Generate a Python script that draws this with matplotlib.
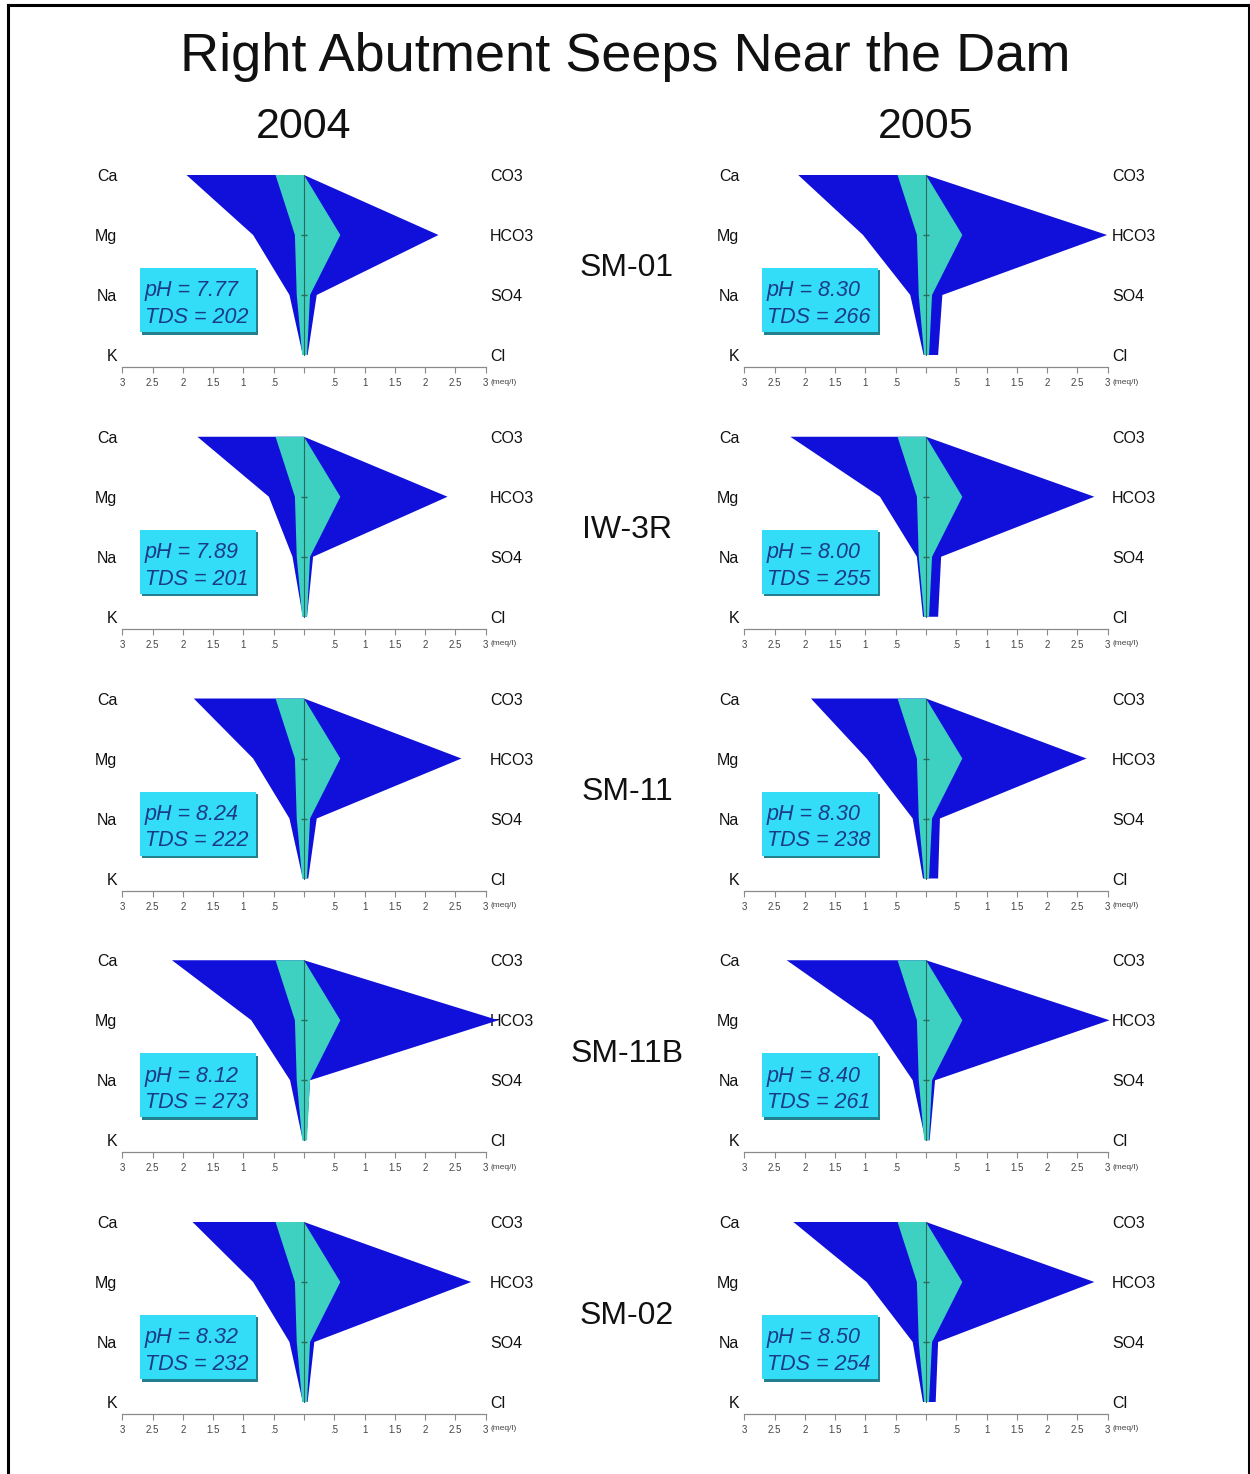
import matplotlib
matplotlib.use("Agg")
import matplotlib.pyplot as plt
from matplotlib.patches import Polygon, Rectangle
from matplotlib.lines import Line2D

plt.rcParams['font.family'] = ['Liberation Sans', 'DejaVu Sans']

# ---------------- data ----------------
title = "Right Abutment Seeps Near the Dam"
years = ["2004", "2005"]
stations = ["SM-01", "IW-3R", "SM-11", "SM-11B", "SM-02"]
cations = ["Ca", "Mg", "Na", "K"]
anions = ["CO3", "HCO3", "SO4", "Cl"]

# meq/l values (cations plotted to the left, anions to the right)
cation_2004 = [[1.94, 0.84, 0.24, 0.02],
               [1.76, 0.58, 0.19, 0.02],
               [1.82, 0.84, 0.24, 0.02],
               [2.18, 0.87, 0.23, 0.02],
               [1.84, 0.84, 0.24, 0.02]]
anion_2004 = [[0.00, 2.22, 0.21, 0.06],
              [0.00, 2.37, 0.15, 0.05],
              [0.00, 2.60, 0.21, 0.07],
              [0.00, 3.21, 0.10, 0.04],
              [0.00, 2.76, 0.17, 0.06]]
cation_2005 = [[2.11, 1.04, 0.26, 0.04],
               [2.24, 0.76, 0.15, 0.05],
               [1.90, 0.98, 0.22, 0.05],
               [2.30, 0.89, 0.22, 0.01],
               [2.19, 0.98, 0.22, 0.05]]
anion_2005 = [[0.00, 2.99, 0.27, 0.20],
              [0.00, 2.78, 0.25, 0.20],
              [0.00, 2.65, 0.23, 0.20],
              [0.00, 3.03, 0.15, 0.06],
              [0.00, 2.78, 0.20, 0.16]]

# reference water (inner turquoise shape, same on every diagram)
ref_cation = [0.47, 0.15, 0.12, 0.03]
ref_anion = [0.00, 0.60, 0.10, 0.05]

ph_2004 = [7.77, 7.89, 8.24, 8.12, 8.32]
tds_2004 = [202, 201, 222, 273, 232]
ph_2005 = [8.30, 8.00, 8.30, 8.40, 8.50]
tds_2005 = [266, 255, 238, 261, 254]

tick_values = [-3, -2.5, -2, -1.5, -1, -0.5, 0, 0.5, 1, 1.5, 2, 2.5, 3]
tick_labels = ["3", "2.5", "2", "1.5", "1", ".5", "", ".5", "1", "1.5", "2", "2.5", "3"]
unit_label = "(meq/l)"

cations_by_year = [cation_2004, cation_2005]
anions_by_year = [anion_2004, anion_2005]
ph_by_year = [ph_2004, ph_2005]
tds_by_year = [tds_2004, tds_2005]

# ---------------- style / layout ----------------
W, H = 1250, 1474
BLUE = "#1010DA"
TURQ = "#3ED0C0"
BOX = "#33DDF7"
BOX_SHADOW = "#23808F"
BOX_TEXT = "#1B3A8A"
AXIS_GRAY = "#8a8a8a"

fig = plt.figure(figsize=(W / 100, H / 100), dpi=100)
fig.patch.set_facecolor("white")

col_x0 = [122.3, 744.3]
col_w = 363.4
row_ca_y = [175 + 261.75 * r for r in range(len(stations))]
row_px = 60.0


def stiff_xy(cat, an):
    left = [(-v, i) for i, v in enumerate(cat)]
    right = [(v, i) for i, v in enumerate(an)][::-1]
    return left + right


for r, station in enumerate(stations):
    ca_y = row_ca_y[r]
    for c, year in enumerate(years):
        bottom_px = ca_y + 3.2 * row_px
        ax = fig.add_axes([col_x0[c] / W, 1 - bottom_px / H,
                           col_w / W, 3.25 * row_px / H])
        ax.set_xlim(-3, 3)
        ax.set_ylim(3.2, -0.05)
        ax.patch.set_alpha(0)
        for s in ["left", "right", "top"]:
            ax.spines[s].set_visible(False)
        ax.spines["bottom"].set_color(AXIS_GRAY)
        ax.spines["bottom"].set_linewidth(0.9)
        ax.set_yticks([])
        ax.set_xticks(tick_values)
        ax.set_xticklabels(tick_labels)
        ax.tick_params(axis="x", direction="out", length=4, width=0.8,
                       color=AXIS_GRAY, labelsize=7, labelcolor="#444444", pad=4)
        ax.text(3.08, 3.45, unit_label, fontsize=6, color="#444444",
                ha="left", va="center")

        cat = cations_by_year[c][r]
        an = anions_by_year[c][r]
        ax.add_patch(Polygon(stiff_xy(cat, an), closed=True, facecolor=BLUE,
                             edgecolor="none", clip_on=False, zorder=2))
        ax.add_patch(Polygon(stiff_xy(ref_cation, ref_anion), closed=True,
                             facecolor=TURQ, edgecolor="none", clip_on=False, zorder=3))
        ax.plot([0, 0], [0, 3], color="#2E6A5C", lw=0.8, zorder=4, clip_on=False)
        ax.plot([0, 0], [1, 2], linestyle="none", marker="_", markersize=4,
                color="#2E6A5C", zorder=4)

        for i, name in enumerate(cations):
            ax.text(-3.08, i, name, ha="right", va="center_baseline",
                    fontsize=11.5, color="#111111")
        for i, name in enumerate(anions):
            ax.text(3.07, i, name, ha="left", va="center_baseline",
                    fontsize=11.5, color="#111111", zorder=1)

        # pH / TDS box
        ax.add_patch(Rectangle((-2.68, 1.59), 1.92, 1.07, facecolor=BOX_SHADOW,
                               edgecolor="none", zorder=5, clip_on=False))
        ax.add_patch(Rectangle((-2.71, 1.55), 1.92, 1.07, facecolor=BOX,
                               edgecolor="none", zorder=6, clip_on=False))
        ax.text(-2.63, 1.89, "pH = %.2f" % ph_by_year[c][r], fontsize=15.5,
                style="italic", color=BOX_TEXT, ha="left", va="center_baseline", zorder=7)
        ax.text(-2.63, 2.33, "TDS = %d" % tds_by_year[c][r], fontsize=15.5,
                style="italic", color=BOX_TEXT, ha="left", va="center_baseline", zorder=7)

    fig.text(627 / W, 1 - (ca_y + 90) / H, station, ha="center",
             va="center_baseline", fontsize=23, color="#111111")

fig.text(625 / W, 1 - 52 / H, title, ha="center", va="center_baseline",
         fontsize=39, color="#111111")
fig.text(304 / W, 1 - 122 / H, years[0], ha="center", va="center_baseline",
         fontsize=31, color="#111111")
fig.text(926 / W, 1 - 122 / H, years[1], ha="center", va="center_baseline",
         fontsize=31, color="#111111")

# frame
fig.add_artist(Line2D([8 / W, 8 / W], [0, 1 - 5 / H], transform=fig.transFigure,
                      color="black", lw=2.2))
fig.add_artist(Line2D([8 / W, 1], [1 - 5 / H, 1 - 5 / H], transform=fig.transFigure,
                      color="black", lw=2.2))
fig.add_artist(Line2D([1248.5 / W, 1248.5 / W], [0, 1 - 5 / H], transform=fig.transFigure,
                      color="black", lw=2.2))

fig.savefig("out.png", dpi=100, facecolor="white")
